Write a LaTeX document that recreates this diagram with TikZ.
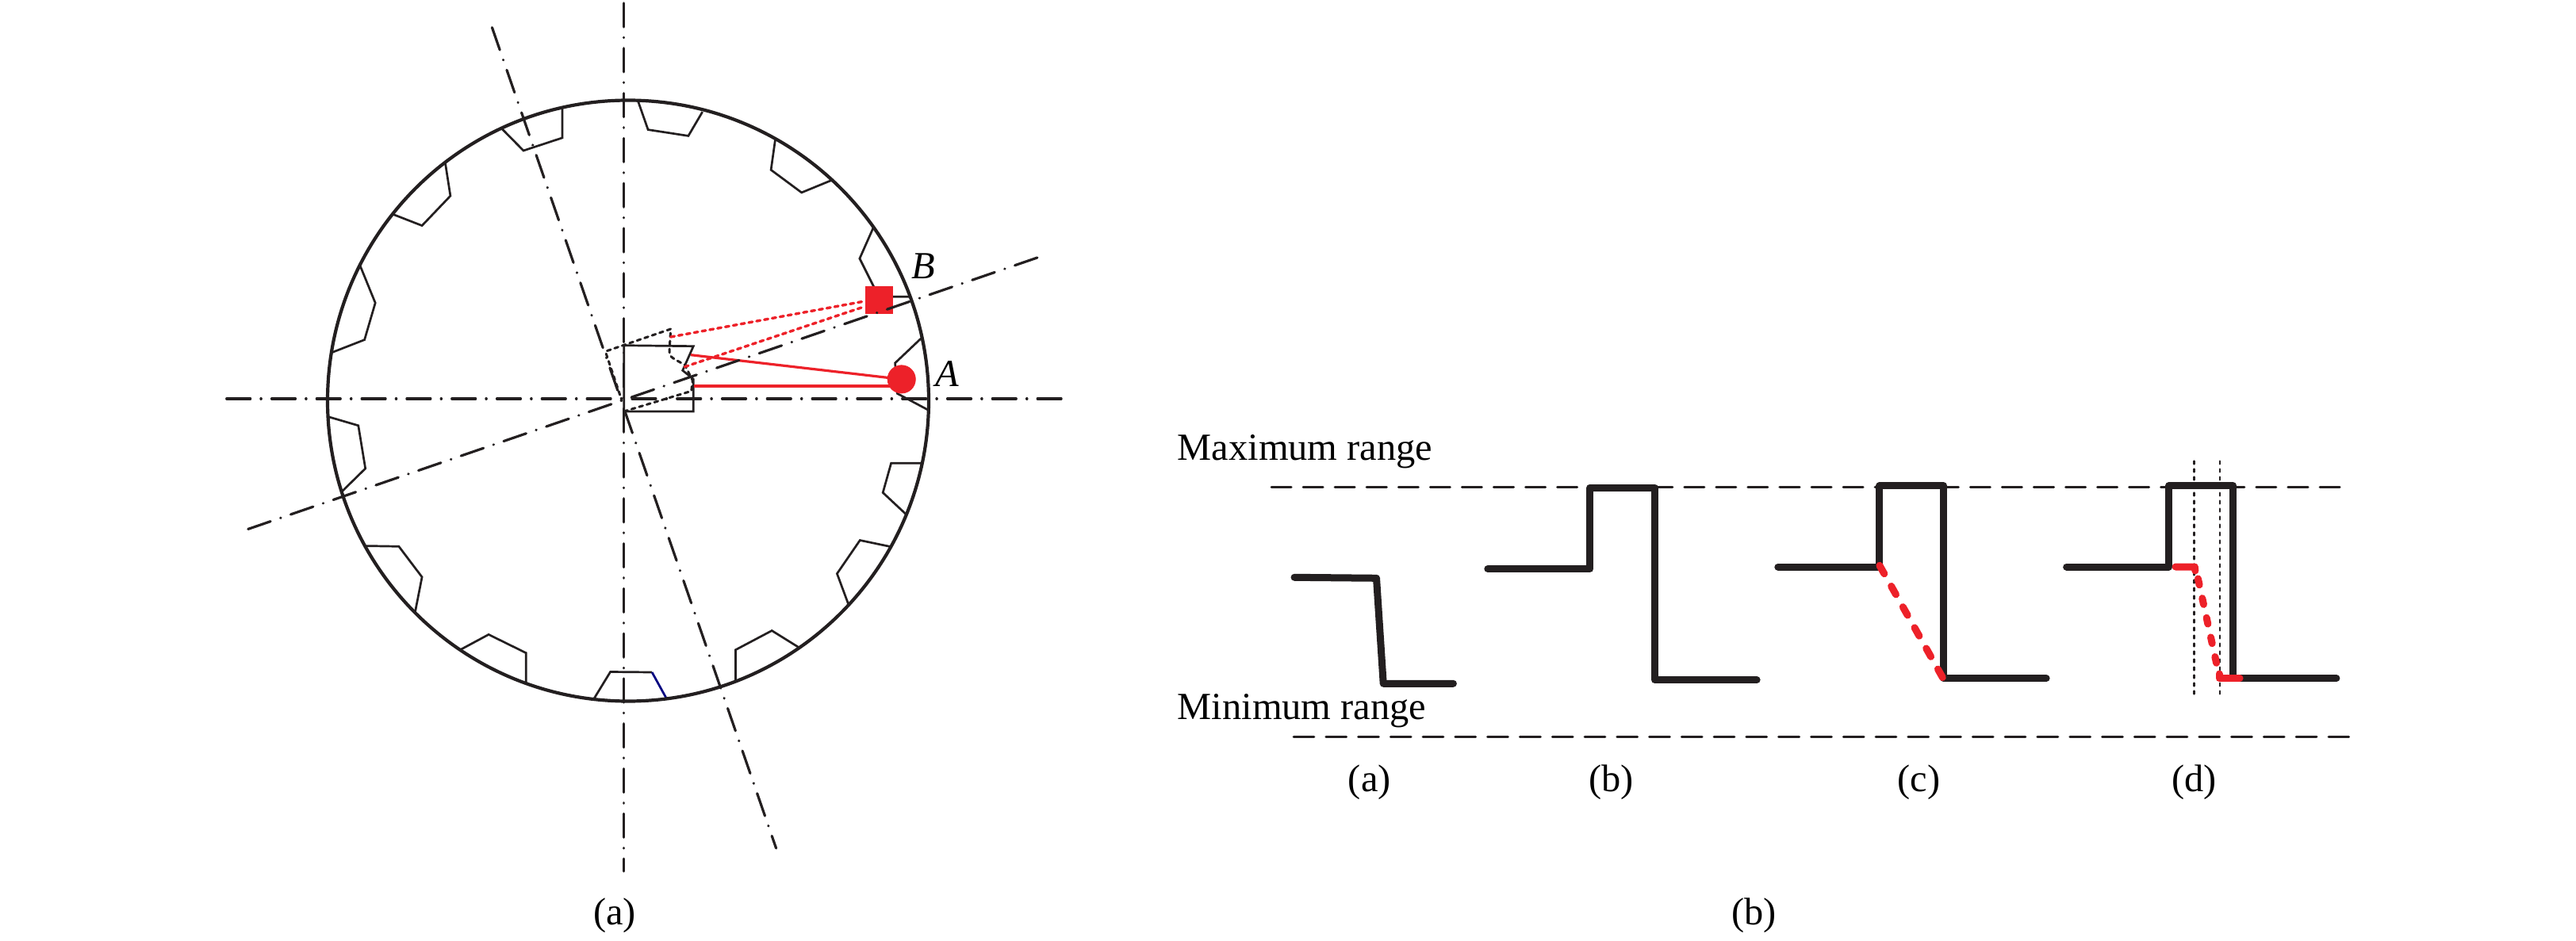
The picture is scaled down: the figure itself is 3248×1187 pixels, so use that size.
\documentclass[tikz,border=0pt]{standalone}
\usepackage{fontspec}
\setmainfont{Liberation Serif}
\definecolor{ink}{HTML}{231F20}
\definecolor{redm}{HTML}{ED2129}
\tikzset{
  x=0.5pt,y=-0.5pt,
  wheel/.style={draw=ink,line width=2.1pt},
  tooth/.style={draw=ink,line width=1.35pt,line join=miter},
  centerline/.style={draw=ink,line width=1.6pt,line cap=round,dash pattern=on 15pt off 6.6pt on 0.2pt off 6.6pt},
  dotblack/.style={draw=ink,line width=1.5pt,dash pattern=on 2.4pt off 2.6pt,line cap=round},
  dotred/.style={draw=redm,line width=1.7pt,dash pattern=on 2.4pt off 2.6pt,line cap=round},
  redline/.style={draw=redm,line width=1.6pt},
  rangeline/.style={draw=ink,line width=1.5pt,line cap=round},
  wave/.style={draw=ink,line width=4.5pt,line cap=round,line join=round},
  redwave/.style={draw=redm,line width=4.5pt,line cap=round,line join=round},
  reddashc/.style={redwave,dash pattern=on 6pt off 9pt},
  reddashd/.style={redwave,dash pattern=on 4pt off 8.6pt},
  guide/.style={draw=ink,line width=1.4pt,line cap=round,dash pattern=on 1.8pt off 3.2pt},
  lab/.style={inner sep=0pt,anchor=base,font=\fontsize{24.2}{29}\selectfont},
  labw/.style={inner sep=0pt,anchor=base west,font=\fontsize{24.2}{29}\selectfont},
  labi/.style={inner sep=0pt,anchor=base,font=\fontsize{24.2}{29}\selectfont\itshape}
}
\begin{document}
\begin{tikzpicture}
\useasboundingbox (0,0) rectangle (3248,1187);
% named points
\coordinate (wc) at (792,505.5);
\coordinate (hL) at (285.7,503); \coordinate (hR) at (1341,503);
\coordinate (vT) at (786.4,4); \coordinate (vB) at (786.4,1099);
\coordinate (aT) at (620.4,34.6); \coordinate (aB) at (978.6,1070);
\coordinate (bL) at (311.4,667.9); \coordinate (bR) at (1307.9,325);
% teeth
\draw[tooth] (632.9,162.5)--(660,190)--(708.9,173.9)--(708.9,136.8);
\draw[tooth] (561.4,205.4)--(567.9,247.1)--(532.1,284.6)--(496.4,270.7);
\draw[tooth] (454.3,335.7)--(473.2,382.1)--(459.6,428.6)--(418.6,444.6);
\draw[tooth] (415,526)--(451.8,536.8)--(460.7,591)--(430.4,620.7);
\draw[tooth] (461.4,688.6)--(502.9,689.3)--(532.1,727.9)--(523.2,773.2);
\draw[tooth] (580.4,819.6)--(616.1,800.4)--(663.2,823.6)--(663.2,861.8);
\draw[tooth] (748.9,881.4)--(769.6,847.5)--(822.1,848);
\draw[tooth,draw=blue!50!black] (822.1,848)--(840,880.5);
\draw[tooth] (927.5,858.7)--(927.5,819.7)--(973.2,795.5)--(1007.1,816.6);
\draw[tooth] (1069.6,761.9)--(1055.4,723.6)--(1084.3,681.5)--(1122.5,689.5);
\draw[tooth] (1141.8,648.2)--(1113.2,621.4)--(1123.6,584.3)--(1161.4,584.3);
\draw[tooth] (804.6,127.9)--(817.1,163.6)--(867.9,171.4)--(885.7,141.1);
\draw[tooth] (977.5,176)--(972.1,214.3)--(1010.7,242.9)--(1048.2,227.5);
\draw[tooth] (1101,287.5)--(1083.9,326.1)--(1108,374.3)--(1146.4,374.3);
\draw[tooth] (1161.4,426.8)--(1128.6,457.9)--(1131.4,496.4)--(1169.6,516.8);
\draw[tooth] (1146,503)--(1169,503);
% wheel rim
\draw[wheel] (wc) circle[radius=379];
% hub profile
\draw[tooth] (786.7,435.7)--(874.3,436.7)--(860.7,467.3)--(874.3,478.3)--(874.3,519)--(786.7,519)--cycle;
\draw[dotblack] (786.7,519)--(871.7,493.3)--(873.3,480)--(863.3,460)
  .. controls (850,453) and (843,450) .. (844,443.3)--(845.7,415)--(763.3,443.3)--(783.3,503);
% red markers
\node[draw=none,fill=redm,minimum size=17.7pt,inner sep=0pt] (B) at (1108.7,378.7) {};
\node[circle,draw=redm,fill=redm,minimum size=17.6pt,inner sep=0pt] (A) at (1136.7,478.4) {};
\draw[redline] (871,447.7)--(A.center);
\draw[redline] (875,487)--(1122,487);
\draw[dotred] (845.7,425)--(1090,380);
\draw[dotred] (863.3,462.7)--(1090,386.7);
% centre lines
\draw[centerline] (hL)--(hR);
\draw[centerline] (vT)--(vB);
\draw[centerline] (aT)--(aB);
\draw[centerline] (bR)--(bL);
% labels
\node[labi] (lA) at (1194,487.5) {A};
\node[labi] (lB) at (1164,352) {B};
\node[lab] (capa) at (775,1166.7) {(a)};
\node[lab] (capb) at (2211.7,1166.7) {(b)};
\node[labw] (maxr) at (1484.5,580) {Maximum range};
\node[labw] (minr) at (1484.5,907.7) {Minimum range};
\node[lab] (wa) at (1726.8,998) {(a)};
\node[lab] (wb) at (2031.4,998) {(b)};
\node[lab] (wc2) at (2419.4,998) {(c)};
\node[lab] (wd) at (2766.3,998) {(d)};
% range lines
\coordinate (maxL) at (1603,614.3); \coordinate (maxR) at (2950,614.3);
\coordinate (minL) at (1631,929.3); \coordinate (minR) at (2961.7,929.3);
\draw[rangeline,dash pattern=on 12.53pt off 7.5pt] (maxL)--(maxR);
\draw[rangeline,dash pattern=on 12.89pt off 7.5pt] (minL)--(minR);
% waves
\draw[wave] (1632,728.3)--(1735.5,729.3)--(1744.2,862.3)--(1832.4,862.3);
\draw[wave] (1875.8,717.7)--(2004.9,717.7)--(2004.9,615)--(2086.5,615)--(2086.5,857.7)--(2215.1,857.7);
\draw[wave] (2241.8,715)--(2369.9,715)--(2369.9,612.7)--(2450.5,612.7)--(2450.5,855.7)--(2580.1,855.7);
\draw[wave] (2605.6,715)--(2734.7,715)--(2734.7,612.7)--(2815.8,612.7)--(2815.8,855.7)--(2945.9,855.7);
\draw[guide] (2766.8,581.7)--(2766.8,880);
\draw[guide] (2799,581.7)--(2799,880);
\draw[reddashc] (2369.9,713.3)--(2450.5,856.7);
\draw[redwave] (2743,715)--(2767.3,715)--(2767.8,720);
\draw[reddashd] (2771.4,730)--(2796,843);
\draw[redwave] (2798,850)--(2798,855.7)--(2824,855.7);
\end{tikzpicture}
\end{document}
